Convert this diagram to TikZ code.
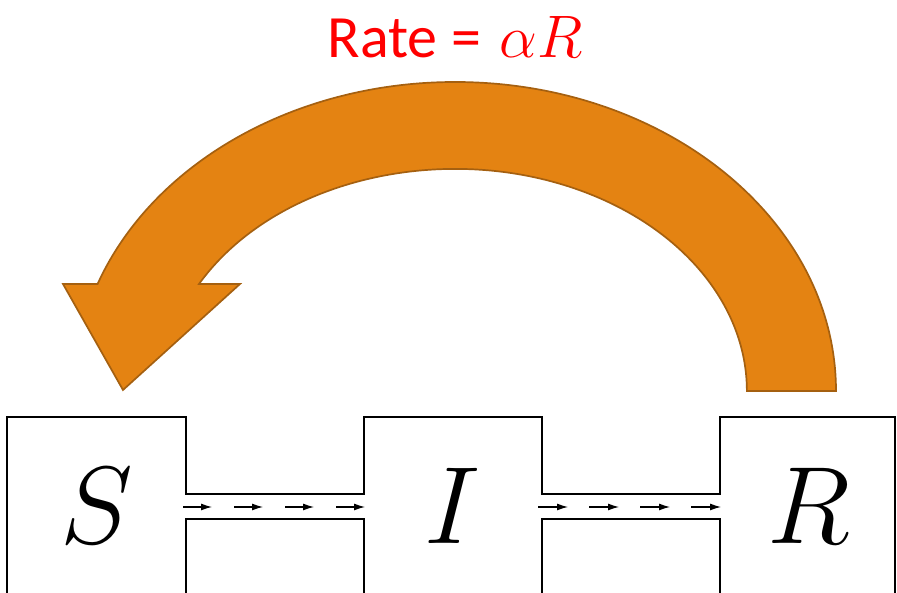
\RequirePackage{fix-cm}
\documentclass[tikz,border=0pt]{standalone}
\usepackage{amsmath,amssymb}
\usepackage{xcolor}
\usepackage{fontspec}
\usepackage{tikz}
\usetikzlibrary{arrows.meta,calc,positioning}
\newfontfamily\ratefont{Carlito}
\definecolor{loopfill}{RGB}{228,131,18}
\definecolor{loopedge}{RGB}{165,96,16}

\begin{document}
\begin{tikzpicture}[x=1pt,y=1pt,>=Latex,
    wall/.style={line width=2.7pt,line join=miter},
    flow/.style={line width=1.1pt,-{Latex[length=11pt,width=7pt]}},
    compname/.style={font=\fontsize{110}{110}\selectfont},
    feedback/.style={fill=loopfill,draw=loopedge,line width=1.7pt,line join=miter}]
  \useasboundingbox (0,0) rectangle (897,593);
  % compartments and channels
  \coordinate (sw) at (7,-4);
  \coordinate (ne) at (895,176);
  \draw[wall] (sw) |- (186,176) |- (364,99) |- (542,176) |- (720,99) |- (ne) -- (895,-4);
  \draw[wall] (186,-4) |- (364,74) -- (364,-4);
  \draw[wall] (542,-4) |- (720,74) -- (720,-4);
  \foreach \x in {0,1,2,3} {
    \draw[flow] (183+51*\x,86) -- ++(29,0);
    \draw[flow] (538+51*\x,86) -- ++(30,0);
  }
  \node[compname] (S) at (97,87) {$S$};
  \node[compname] (I) at (453,87) {$I$};
  \node[compname] (R) at (809,87) {$R$};
  % recovered back to susceptible
  \coordinate (c) at (455,202);
  \coordinate (tip) at (123,203);
  \draw[feedback] (836,202) arc[start angle=0,end angle=159.74,x radius=381,y radius=309]
    -- (63,309) -- (tip) -- (240,309) -- (199,309)
    arc[start angle=151.2,end angle=0,x radius=292,y radius=222] -- cycle;
  \node[red,font=\fontsize{60}{60}\selectfont] (rate) at (455,556) {{\ratefont Rate =} $\alpha R$};
\end{tikzpicture}
\end{document}
